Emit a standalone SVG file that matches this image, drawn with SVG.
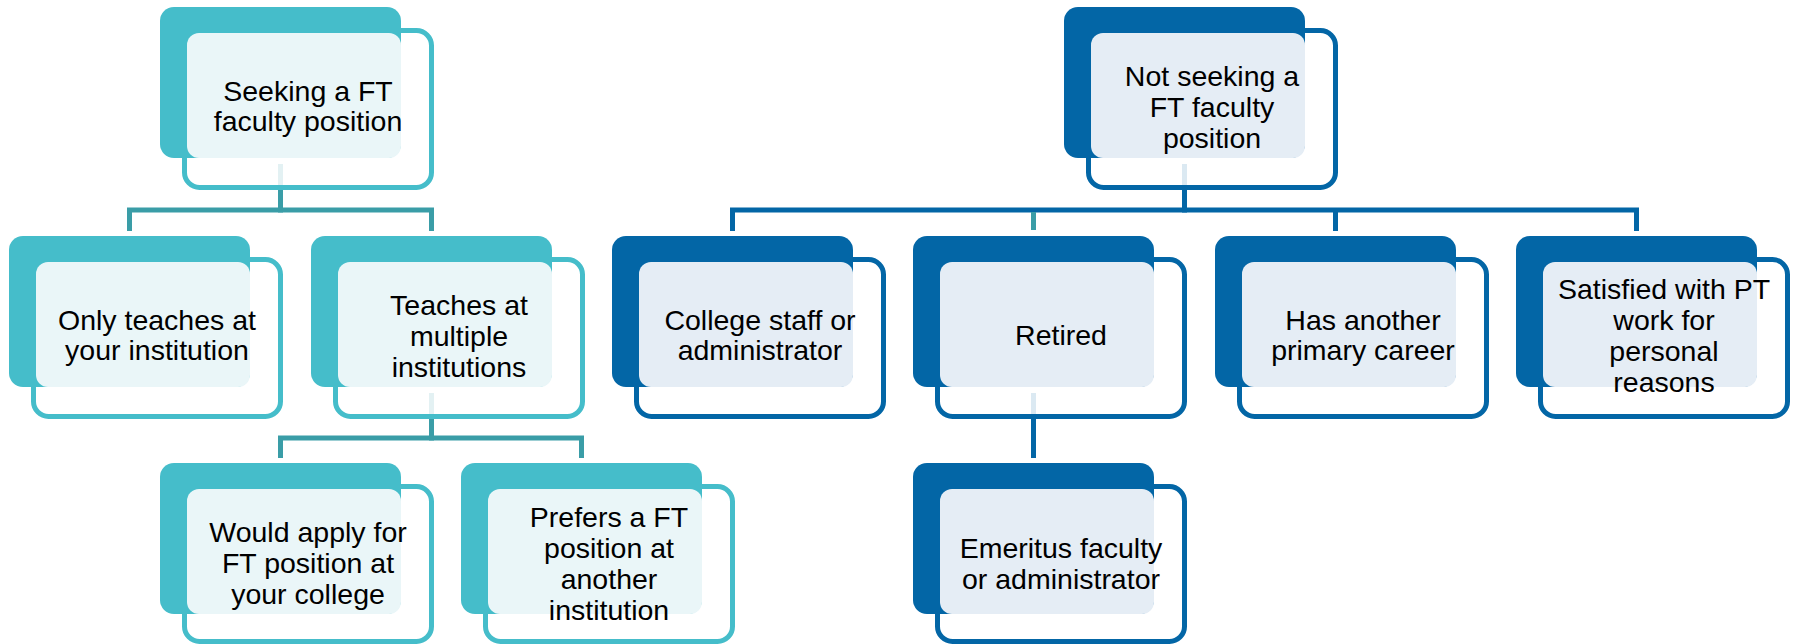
<svg xmlns="http://www.w3.org/2000/svg" width="1794" height="644" viewBox="0 0 1794 644">
<style>
.back{stroke:none}
.front{fill:#ffffff;fill-opacity:0.86;stroke-width:5}
.teal .back{fill:#45BDCA}
.teal .front{stroke:#45BDCA}
.teal .tint{fill:#EAF6F8}
.blue .back{fill:#0366A6}
.blue .front{stroke:#0366A6}
.blue .tint{fill:#E5EDF5}
text{font-family:"Liberation Sans",Arial,sans-serif;font-size:28.5px;fill:#000;text-anchor:middle}
.conn path{fill:none;stroke-width:5;stroke-linejoin:miter;stroke-linecap:butt}
.ct{stroke:#3A9DA7}
.cb{stroke:#0366A6}
</style>
<rect width="1794" height="644" fill="#ffffff"/>
<g id="connectors" class="conn">
<path class="ct" d="M280.5,164 V210 H129.5 V231"/>
<path class="ct" d="M280.5,164 V210 H431.5 V231"/>
<path class="ct" d="M431.5,393 V438 H280.5 V458"/>
<path class="ct" d="M431.5,393 V438 H581.5 V458"/>
<path class="cb" d="M1184.5,164 V210 H732.5 V231"/>
<path class="cb" d="M1184.5,164 V210 H1636.5 V231"/>
<path class="cb" d="M1335.5,210 V231"/>
<path class="ct" d="M1033.5,212 V230"/>
<path class="cb" d="M1033.5,393 V458"/>
</g>
<g id="n-seeking" class="teal">
<rect class="front" x="184.5" y="30.5" width="247" height="157" rx="15"/>
<rect class="back" x="160" y="7" width="241" height="151" rx="14"/>
<rect class="tint" x="187" y="33" width="214" height="125" rx="12"/>
<text x="308" y="101"><tspan x="308">Seeking a FT</tspan><tspan x="308" y="131">faculty position</tspan></text>
</g>
<g id="n-only" class="teal">
<rect class="front" x="33.5" y="259.5" width="247" height="157" rx="15"/>
<rect class="back" x="9" y="236" width="241" height="151" rx="14"/>
<rect class="tint" x="36" y="262" width="214" height="125" rx="12"/>
<text x="157" y="330"><tspan x="157">Only teaches at</tspan><tspan x="157" y="360">your institution</tspan></text>
</g>
<g id="n-multiple" class="teal">
<rect class="front" x="335.5" y="259.5" width="247" height="157" rx="15"/>
<rect class="back" x="311" y="236" width="241" height="151" rx="14"/>
<rect class="tint" x="338" y="262" width="214" height="125" rx="12"/>
<text x="459" y="315"><tspan x="459">Teaches at</tspan><tspan x="459" y="346">multiple</tspan><tspan x="459" y="377">institutions</tspan></text>
</g>
<g id="n-would" class="teal">
<rect class="front" x="184.5" y="486.5" width="247" height="155" rx="15"/>
<rect class="back" x="160" y="463" width="241" height="151" rx="14"/>
<rect class="tint" x="187" y="489" width="214" height="125" rx="12"/>
<text x="308" y="542"><tspan x="308">Would apply for</tspan><tspan x="308" y="573">FT position at</tspan><tspan x="308" y="604">your college</tspan></text>
</g>
<g id="n-prefers" class="teal">
<rect class="front" x="485.5" y="486.5" width="247" height="155" rx="15"/>
<rect class="back" x="461" y="463" width="241" height="151" rx="14"/>
<rect class="tint" x="488" y="489" width="214" height="125" rx="12"/>
<text x="609" y="527"><tspan x="609">Prefers a FT</tspan><tspan x="609" y="558">position at</tspan><tspan x="609" y="589">another</tspan><tspan x="609" y="620">institution</tspan></text>
</g>
<g id="n-notseeking" class="blue">
<rect class="front" x="1088.5" y="30.5" width="247" height="157" rx="15"/>
<rect class="back" x="1064" y="7" width="241" height="151" rx="14"/>
<rect class="tint" x="1091" y="33" width="214" height="125" rx="12"/>
<text x="1212" y="86"><tspan x="1212">Not seeking a</tspan><tspan x="1212" y="117">FT faculty</tspan><tspan x="1212" y="148">position</tspan></text>
</g>
<g id="n-college" class="blue">
<rect class="front" x="636.5" y="259.5" width="247" height="157" rx="15"/>
<rect class="back" x="612" y="236" width="241" height="151" rx="14"/>
<rect class="tint" x="639" y="262" width="214" height="125" rx="12"/>
<text x="760" y="330"><tspan x="760">College staff or</tspan><tspan x="760" y="360">administrator</tspan></text>
</g>
<g id="n-retired" class="blue">
<rect class="front" x="937.5" y="259.5" width="247" height="157" rx="15"/>
<rect class="back" x="913" y="236" width="241" height="151" rx="14"/>
<rect class="tint" x="940" y="262" width="214" height="125" rx="12"/>
<text x="1061" y="345">Retired</text>
</g>
<g id="n-another" class="blue">
<rect class="front" x="1239.5" y="259.5" width="247" height="157" rx="15"/>
<rect class="back" x="1215" y="236" width="241" height="151" rx="14"/>
<rect class="tint" x="1242" y="262" width="214" height="125" rx="12"/>
<text x="1363" y="330"><tspan x="1363">Has another</tspan><tspan x="1363" y="360">primary career</tspan></text>
</g>
<g id="n-satisfied" class="blue">
<rect class="front" x="1540.5" y="259.5" width="247" height="157" rx="15"/>
<rect class="back" x="1516" y="236" width="241" height="151" rx="14"/>
<rect class="tint" x="1543" y="262" width="214" height="125" rx="12"/>
<text x="1664" y="299"><tspan x="1664">Satisfied with PT</tspan><tspan x="1664" y="330">work for</tspan><tspan x="1664" y="361">personal</tspan><tspan x="1664" y="392">reasons</tspan></text>
</g>
<g id="n-emeritus" class="blue">
<rect class="front" x="937.5" y="486.5" width="247" height="155" rx="15"/>
<rect class="back" x="913" y="463" width="241" height="151" rx="14"/>
<rect class="tint" x="940" y="489" width="214" height="125" rx="12"/>
<text x="1061" y="558"><tspan x="1061">Emeritus faculty</tspan><tspan x="1061" y="589">or administrator</tspan></text>
</g>
</svg>
